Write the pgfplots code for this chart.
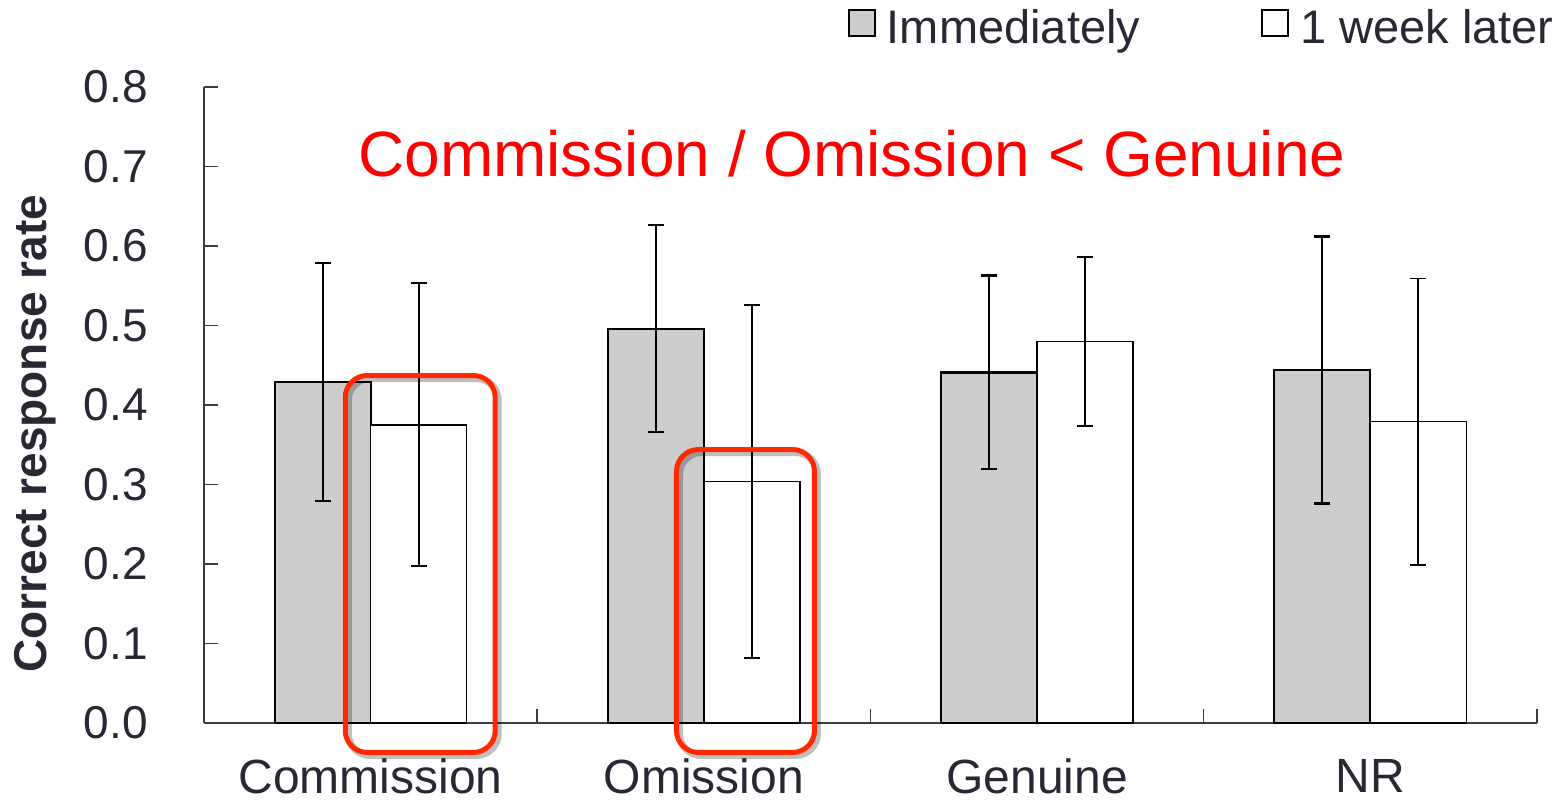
\documentclass[border=0pt]{standalone}
\usepackage{fontspec}
\setmainfont{Liberation Sans}
\usepackage{pgfplots}
\pgfplotsset{compat=1.18}
\usepackage{pgfplotstable}
\definecolor{txt}{RGB}{40,40,52}
\definecolor{axisc}{RGB}{60,60,72}
\definecolor{barg}{RGB}{204,204,204}
\definecolor{boxred}{RGB}{255,40,0}
\pgfplotsset{sqlegend/.style={legend image code/.code={\draw[##1, line width=2pt, draw=black] (0pt,-9pt) rectangle (26pt,17pt);}}}

\pgfplotstableread{
x y err
0.5 0.429 0.150
1.5 0.496 0.130
2.5 0.441 0.122
3.5 0.444 0.168
}\immed
\pgfplotstableread{
x y err
0.5 0.375 0.178
1.5 0.304 0.222
2.5 0.480 0.106
3.5 0.379 0.180
}\week

\begin{document}
\begin{tikzpicture}
\path[use as bounding box] (-204pt,-80pt) rectangle (1360pt,723pt);
\begin{axis}[
  at={(0pt,0pt)}, anchor=south west,
  scale only axis, width=1333pt, height=636pt,
  xmin=0, xmax=4, ymin=0, ymax=0.8,
  axis x line=bottom, axis y line=left,
  axis line style={-, line width=1.5pt, draw=axisc},
  xtick={0,1,2,3,4}, xticklabels={},
  extra x ticks={0.5,1.5,2.5,3.5},
  extra x tick labels={Commission,Omission,Genuine,NR},
  extra x tick style={major tick length=0pt},
  ytick={0,0.1,0.2,0.3,0.4,0.5,0.6,0.7,0.8},
  y tick label style={/pgf/number format/fixed,/pgf/number format/fixed zerofill,/pgf/number format/precision=1,/pgf/number format/assume math mode=true, font=\fontsize{46}{50}\selectfont, text=txt, inner sep=0pt, xshift=-56pt},
  x tick label style={font=\fontsize{48}{52}\selectfont, text=txt, inner sep=0pt, anchor=north, yshift=-36pt},
  tick align=inside, major tick length=14pt,
  tick style={line width=1.5pt, draw=axisc},
  xtick style={yshift=14pt},
  ybar=0pt, bar width=0.288,
  clip=false,
  ylabel={Correct response rate},
  ylabel style={font=\fontsize{46}{50}\selectfont\bfseries, text=txt, at={(axis description cs:-0.1425,0.455)}, anchor=north, inner sep=0pt},
  legend columns=2,
  legend style={at={(axis description cs:0.483,1.094)}, anchor=west, draw=none, fill=none, inner sep=0pt, outer sep=0pt,
    font=\fontsize{47}{51}\selectfont, text=txt,
    nodes={inner sep=1pt},
    /tikz/every odd column/.append style={column sep=10pt},
    /tikz/every even column/.append style={column sep=120pt}},
]
\addplot[fill=barg, draw=black, line width=2.2pt, sqlegend,
  error bars/.cd, y dir=both, y explicit,
  error bar style={line width=2.2pt, draw=black},
  error mark options={rotate=90, mark size=8pt, line width=2.2pt, draw=black}]
  table[x=x, y=y, y error=err] {\immed};
\addplot[fill=white, draw=black, line width=1.6pt, sqlegend,
  error bars/.cd, y dir=both, y explicit,
  error bar style={line width=1.8pt, draw=black},
  error mark options={rotate=90, mark size=8pt, line width=1.8pt, draw=black}]
  table[x=x, y=y, y error=err] {\week};
\legend{Immediately, 1 week later}
\draw[black, opacity=0.25, line width=7pt, rounded corners=22pt, shift={(3pt,-3pt)}] (axis cs:0.4239,0.4371) rectangle (axis cs:0.8740,-0.0371);
\draw[black, opacity=0.25, line width=7pt, rounded corners=22pt, shift={(3pt,-3pt)}] (axis cs:1.4179,0.3440) rectangle (axis cs:1.8320,-0.0371);
\draw[boxred, line width=5pt, rounded corners=22pt] (axis cs:0.4239,0.4371) rectangle (axis cs:0.8740,-0.0371);
\draw[boxred, line width=5pt, rounded corners=22pt] (axis cs:1.4179,0.3440) rectangle (axis cs:1.8320,-0.0371);
\node[anchor=base, text=red, font=\fontsize{64}{70}\selectfont, inner sep=0pt] at (axis cs:1.944,0.687) {Commission / Omission < Genuine};
\end{axis}
\end{tikzpicture}
\end{document}
